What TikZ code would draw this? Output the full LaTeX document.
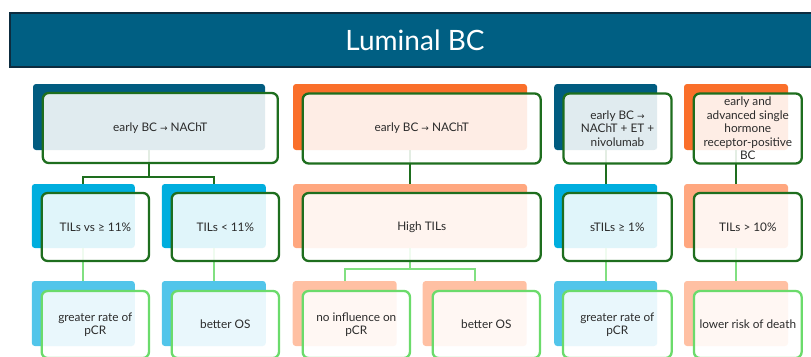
\documentclass[tikz,border=0pt]{standalone}
\usepackage{fontspec}
\setmainfont{Lato}
\newfontfamily\symfont{DejaVu Sans}
\definecolor{titlefill}{HTML}{005F83}
\definecolor{titleline}{HTML}{0D2C3F}
\definecolor{darkblue}{HTML}{015C80}
\definecolor{orange1}{HTML}{FA6F2A}
\definecolor{cyan2}{HTML}{00AEDE}
\definecolor{salmon2}{HTML}{FFA77F}
\definecolor{cyan3}{HTML}{52C5EA}
\definecolor{salmon3}{HTML}{FFC0A3}
\definecolor{dgreen}{HTML}{1E6E1E}
\definecolor{lgreen}{HTML}{6BDB6B}
\definecolor{textgray}{HTML}{2B2B2B}
\newcommand{\arr}{{\symfont\fontsize{9}{9}\selectfont →}}
\begin{document}
\begin{tikzpicture}[x=1pt,y=-1pt,
  titlebar/.style={rectangle, fill=titlefill, draw=titleline, line width=2pt, text=white,
    font=\fontsize{28}{30}\selectfont, inner sep=0pt},
  backbox/.style={rectangle, rounded corners=3pt, inner sep=0pt},
  frontbox/.style={rectangle, rounded corners=6pt, fill=white, fill opacity=0.88, text opacity=1,
    line width=2.3pt, text=textgray, font=\fontsize{11.8}{13.5}\selectfont, align=center, inner sep=2pt},
  fdark/.style={frontbox, draw=dgreen},
  flight/.style={frontbox, draw=lgreen},
  conndark/.style={draw=dgreen, line width=2.3pt},
  connlight/.style={draw=lgreen!85!white, line width=2.3pt}]
\useasboundingbox (0,0) rectangle (811,356);

% title
\node[titlebar, minimum width=810pt, minimum height=54pt] (title) at (415,40) {Luminal BC};

% level 1 back boxes
\node[backbox, fill=darkblue, minimum width=232pt, minimum height=66pt] (b1a) at (149,117) {};
\node[backbox, fill=orange1, minimum width=234pt, minimum height=66pt] (b1b) at (410,117) {};
\node[backbox, fill=darkblue, minimum width=103pt, minimum height=66pt] (b1c) at (605.7,117) {};
\node[backbox, fill=orange1, minimum width=104pt, minimum height=66pt] (b1d) at (736,117) {};

% level 2 back boxes
\node[backbox, fill=cyan2, minimum width=103pt, minimum height=64pt] (b2a) at (83.3,216) {};
\node[backbox, fill=cyan2, minimum width=104pt, minimum height=64pt] (b2b) at (213.8,216) {};
\node[backbox, fill=salmon2, minimum width=234pt, minimum height=64pt] (b2c) at (410,216) {};
\node[backbox, fill=cyan2, minimum width=103pt, minimum height=64pt] (b2d) at (605.7,216) {};
\node[backbox, fill=salmon2, minimum width=104pt, minimum height=64pt] (b2e) at (736,216) {};

% level 3 back boxes
\node[backbox, fill=cyan3, minimum width=103pt, minimum height=65pt] (b3a) at (83.3,313.5) {};
\node[backbox, fill=cyan3, minimum width=104pt, minimum height=65pt] (b3b) at (213.8,313.5) {};
\node[backbox, fill=salmon3, minimum width=104pt, minimum height=65pt] (b3c) at (344.7,313.5) {};
\node[backbox, fill=salmon3, minimum width=104pt, minimum height=65pt] (b3d) at (474.7,313.5) {};
\node[backbox, fill=cyan3, minimum width=103pt, minimum height=65pt] (b3e) at (605.7,313.5) {};
\node[backbox, fill=salmon3, minimum width=104pt, minimum height=65pt] (b3f) at (736,313.5) {};

% connectors level 1 -> 2
\draw[conndark] (b1a.south) -- ++(0,27) -| (b2a.north);
\draw[conndark] (b1a.south) -- ++(0,27) -| (b2b.north);
\draw[conndark] (b1b.south) -- (b2c.north);
\draw[conndark] (b1c.south) -- (b2d.north);
\draw[conndark] (b1d.south) -- (b2e.north);

% connectors level 2 -> 3
\draw[connlight] (b2a.south) -- (b3a.north);
\draw[connlight] (b2b.south) -- (b3b.north);
\draw[connlight] (b2c.south) -- ++(0,21) -| (b3c.north);
\draw[connlight] (b2c.south) -- ++(0,21) -| (b3d.north);
\draw[connlight] (b2d.south) -- (b3e.north);
\draw[connlight] (b2e.south) -- (b3f.north);

% level 1 front boxes
\node[fdark, minimum width=235pt, minimum height=70pt] (f1a) at (160.3,128) {early BC \arr\ NAChT};
\node[fdark, minimum width=238pt, minimum height=70pt] (f1b) at (421.7,128.5) {early BC \arr\ NAChT};
\node[fdark, minimum width=108pt, minimum height=70pt] (f1c) at (617.5,128.5) {early BC \arr\\NAChT + ET +\\nivolumab};
\node[fdark, minimum width=108pt, minimum height=70pt, inner sep=0pt] (f1d) at (747.8,128.5) {early and\\advanced single\\hormone\\receptor-positive\\BC};

% level 2 front boxes
\node[fdark, minimum width=107.3pt, minimum height=68pt] (f2a) at (95.3,227) {TILs vs ≥ 11\%};
\node[fdark, minimum width=107.3pt, minimum height=68pt] (f2b) at (225.3,227) {TILs < 11\%};
\node[fdark, minimum width=238pt, minimum height=68pt] (f2c) at (421.7,227) {High TILs};
\node[fdark, minimum width=108.7pt, minimum height=68pt] (f2d) at (617.3,227) {sTILs ≥ 1\%};
\node[fdark, minimum width=107.7pt, minimum height=68pt] (f2e) at (747.8,227) {TILs > 10\%};

% level 3 front boxes
\node[flight, minimum width=107.3pt, minimum height=67pt] (f3a) at (95.3,324.5) {greater rate of\\pCR};
\node[flight, minimum width=107.3pt, minimum height=67pt] (f3b) at (225.3,324.5) {better OS};
\node[flight, minimum width=107.3pt, minimum height=67pt] (f3c) at (356.3,324.5) {no influence on\\pCR};
\node[flight, minimum width=107.3pt, minimum height=67pt] (f3d) at (486.3,324.5) {better OS};
\node[flight, minimum width=108.7pt, minimum height=67pt] (f3e) at (617.3,324.5) {greater rate of\\pCR};
\node[flight, minimum width=107.7pt, minimum height=67pt, inner sep=0pt] (f3f) at (747.8,324.5) {lower risk of death};
\end{tikzpicture}
\end{document}
